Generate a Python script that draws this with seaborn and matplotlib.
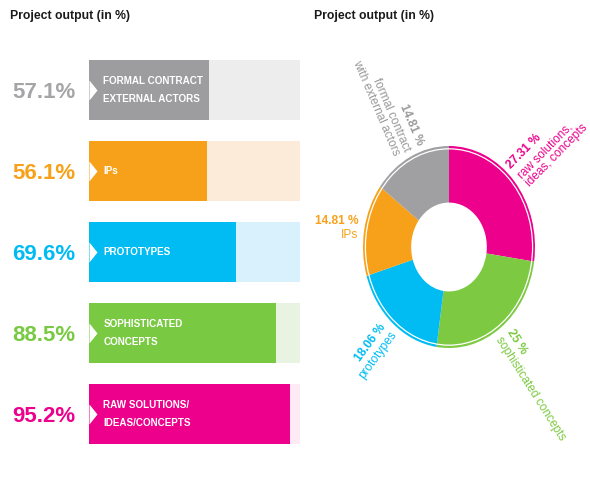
import numpy as np
import pandas as pd
import matplotlib
matplotlib.use("Agg")
import matplotlib.pyplot as plt
import matplotlib.patches as mpatches
from matplotlib.transforms import offset_copy
import seaborn as sns

# ---------------- data ----------------
bar_labels = ["FORMAL CONTRACT\nEXTERNAL ACTORS", "IPs", "PROTOTYPES",
              "SOPHISTICATED\nCONCEPTS", "RAW SOLUTIONS/\nIDEAS/CONCEPTS"]
bar_values = [57.1, 56.1, 69.6, 88.5, 95.2]
bar_full = [100, 100, 100, 100, 100]
bar_colors = ["#9D9D9F", "#F7A11A", "#00BCF2", "#7AC943", "#EC008C"]
bar_light = ["#EDEDEE", "#FDEBD9", "#D9F1FC", "#E9F3E1", "#FDEAF4"]
pct_colors = ["#A5A5A7", "#F7A11A", "#00BCF2", "#7AC943", "#EC008C"]

pie_labels = ["raw solutions,\nideas, concepts", "sophisticated concepts",
              "prototypes", "IPs", "formal contract\nwith external actors"]
pie_values = [27.31, 25.0, 18.06, 14.81, 14.81]
pie_pct = ["27.31 %", "25 %", "18.06 %", "14.81 %", "14.81 %"]
pie_colors = ["#EC008C", "#7DC942", "#00BCF2", "#F7A11A", "#A0A0A2"]
pie_text_colors = ["#EC008C", "#7DC942", "#00BCF2", "#F7A11A", "#9A9A9C"]

title = "Project output (in %)"

# ---------------- figure ----------------
sns.set_theme(style="white")
plt.rcParams["font.family"] = ["Liberation Sans", "DejaVu Sans"]
W, H = 590, 484
fig = plt.figure(figsize=(W / 100, H / 100), dpi=100)

# ---------- left: bars ----------
axL = fig.add_axes([0, 0, 300 / W, 1])
df = pd.DataFrame({"label": bar_labels, "value": bar_values, "full": bar_full})
sns.barplot(data=df, x="full", y="label", hue="label", palette=bar_light,
            orient="h", width=0.74, legend=False, ax=axL, linewidth=0,
            saturation=1)
sns.barplot(data=df, x="value", y="label", hue="label", palette=bar_colors,
            orient="h", width=0.74, legend=False, ax=axL, linewidth=0,
            saturation=1)
scale = 2.11  # px per %
x0 = 89
axL.set_xlim(-x0 / scale, (300 - x0) / scale)
axL.set_ylim(4 + (484 - 414) / 81, -90 / 81)
axL.axis("off")

notch = [(0, -1), (0.8, 0), (0, 1), (0, -1)]
for i, (lab, v, c) in enumerate(zip(bar_labels, bar_values, pct_colors)):
    axL.plot([0], [i], marker=notch, markersize=14.4, color="white",
             markeredgewidth=0, linestyle="none")
    axL.text(-6.5, i + 0.03, f"{v}%", ha="right", va="center", color=c,
             fontsize=16, fontweight="bold")
    axL.text(6.8, i, lab, ha="left", va="center", color="white",
             fontsize=7.1, fontweight="bold", linespacing=2.0)

for xp in (10, 314):
    fig.text(xp / W, 1 - 16 / H, title, fontsize=8.8, fontweight="bold",
             ha="left", va="center", color="#1a1a1a")

# ---------- right: donut ----------
left_px = 298
axR = fig.add_axes([left_px / W, 0, (W - left_px) / W, 1])
cx, cy, rx, ry = 449, 247, 86, 101
wedges, _ = axR.pie(pie_values, colors=pie_colors, startangle=90,
                    counterclock=False, radius=1.0,
                    wedgeprops=dict(width=0.56, linewidth=0))
axR.set_aspect("auto")
axR.set_xlim(-(cx - left_px) / rx, (W - cx) / rx)
axR.set_ylim(-(H - cy) / ry, cy / ry)
axR.axis("off")
axR.add_patch(mpatches.Circle((0, 0), 0.972, fill=False, ec="white", lw=0.9))

total = sum(pie_values)
start = 90.0
fs = 8.6
pitch = fs * 1.15  # line pitch in points
for val, lab, pct, col in zip(pie_values, pie_labels, pie_pct, pie_text_colors):
    span = 360 * val / total
    mid = np.deg2rad(start - span / 2)
    start -= span
    r = 1.07
    px, py = r * np.cos(mid), r * np.sin(mid)
    dx, dy = rx * np.cos(mid), ry * np.sin(mid)
    ang = np.degrees(np.arctan2(dy, dx))
    if dx >= 0:
        rot, ha = ang, "left"
    else:
        rot, ha = ang - 180, "right"
        if rot < -180:
            rot += 360
    if abs(rot) < 15:
        rot = 0
    nl = lab.count("\n") + 1
    ux, uy = -np.sin(np.deg2rad(rot)), np.cos(np.deg2rad(rot))
    o1 = nl / 2 * pitch
    o2 = -pitch / 2
    tr1 = offset_copy(axR.transData, fig=fig, x=ux * o1, y=uy * o1, units="points")
    tr2 = offset_copy(axR.transData, fig=fig, x=ux * o2, y=uy * o2, units="points")
    axR.text(px, py, pct, transform=tr1, rotation=rot, rotation_mode="anchor",
             ha=ha, va="center", color=col, fontsize=fs, fontweight="bold")
    axR.text(px, py, lab, transform=tr2, rotation=rot, rotation_mode="anchor",
             ha=ha, va="center", multialignment=ha, color=col, fontsize=fs,
             linespacing=0.95)

fig.savefig("out.png", dpi=100, facecolor="white")
